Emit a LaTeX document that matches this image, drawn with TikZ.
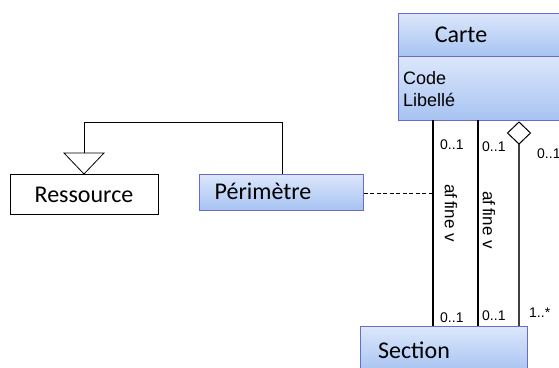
\documentclass[tikz,border=0pt]{standalone}
\usepackage{fontspec}
\setmainfont{Carlito}
\newfontfamily\arialf{Liberation Sans}
\begin{document}
\begin{tikzpicture}[x=1pt,y=-1pt,
  cls/.style={draw=blue!45!gray!80, line width=0.8pt, top color=umlTop, bottom color=umlBot, inner sep=0pt},
  plainbox/.style={draw=black, line width=0.8pt, fill=white, inner sep=0pt},
  lab/.style={font=\arialf\fontsize{14}{16}\selectfont, inner sep=0pt, anchor=west},
  assoc/.style={draw=black, line width=1.6pt},
  title/.style={font=\fontsize{24}{28}\selectfont, inner sep=0pt}
]
\definecolor{umlTop}{HTML}{DCE7FB}
\definecolor{umlBot}{HTML}{A7C3F2}
\clip (0,0) rectangle (559,367);
\fill[white] (0,0) rectangle (559,367);

% Carte class
\node[cls, minimum width=170pt, minimum height=43pt, anchor=north west] (carteH) at (398,13) {};
\node[cls, minimum width=170pt, minimum height=64pt, anchor=north west] (carteB) at (398,56) {};
\node[title] (carteT) at (461,35) {Carte};
\node[font=\arialf\fontsize{18}{22}\selectfont, align=left, anchor=north west, inner sep=0pt] (carteA) at (403,71) {Code\\Libellé};

% Section class
\node[cls, minimum width=167pt, minimum height=46pt, anchor=north west] (section) at (360,326) {};
\node[title] (sectionT) at (414,350) {Section};

% Ressource
\node[plainbox, minimum width=148pt, minimum height=40pt, anchor=north west] (res) at (10,174) {};
\node[title] (resT) at (84,195) {Ressource};

% Perimetre
\node[cls, minimum width=164pt, minimum height=36pt, anchor=north west] (per) at (199,174) {};
\node[title] (perT) at (263,191) {Périmètre};

% coordinates for association ends
\coordinate (a1t) at (433,120);
\coordinate (a1b) at (433,326);
\coordinate (a2t) at (478,120);
\coordinate (a2b) at (478,326);
\coordinate (dT) at (519,122);
\coordinate (dB) at (519,144);
\coordinate (a3b) at (519,326);
\coordinate (dash) at (433,193);

\draw[assoc] (a1t) -- (a1b);
\draw[assoc] (a2t) -- (a2b);
\draw[line width=1.2pt, draw=black!75] (dB) -- (a3b);
\draw[line width=1pt, fill=white] (dT) -- (530.5,133) -- (dB) -- (507.5,133) -- cycle;
\draw[dashed, line width=0.8pt, dash pattern=on 4pt off 2.5pt] (per.east |- dash) -- (dash);

% generalization
\coordinate (g1) at (282,122);
\coordinate (g2) at (84,122);
\coordinate (gt) at (84,153);
\draw[line width=0.8pt] (per.north -| g1) -- (g1) -- (g2) -- (gt);
\draw[line width=0.8pt, fill=white] (64,153) -- (104,153) -- (res.north -| gt) -- cycle;

% multiplicities
\node[lab] (m1) at (440,145) {0..1};
\node[lab] (m2) at (482,147) {0..1};
\node[lab] (m3) at (537,154) {0..1};
\node[lab] (m4) at (440,318) {0..1};
\node[lab] (m5) at (482,316) {0..1};
\node[lab] (m6) at (529,313) {1..*};

% role names
\node[font=\arialf\fontsize{17}{19}\selectfont, rotate=-90, inner sep=0pt] (r1) at (451,213) {af\,fine v};
\node[font=\arialf\fontsize{17}{19}\selectfont, rotate=-90, inner sep=0pt] (r2) at (489,220) {af\,fine v};
\end{tikzpicture}
\end{document}
